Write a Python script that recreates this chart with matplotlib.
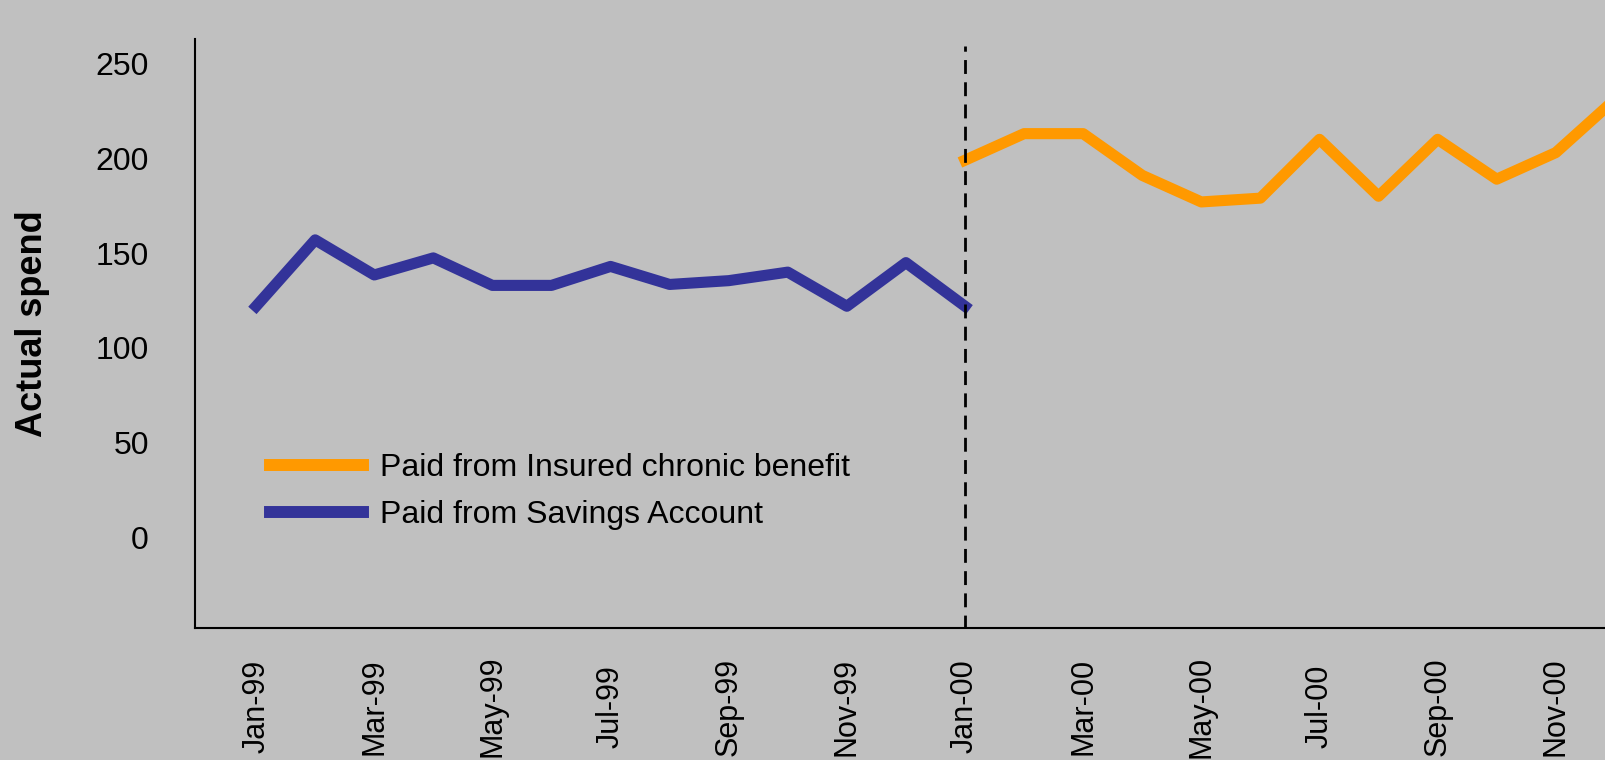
"""Actual spend by month, savings account vs insured chronic benefit."""
import matplotlib

matplotlib.use("Agg")
import matplotlib.pyplot as plt

BG = "#C0C0C0"
BLUE = "#333399"
ORANGE = "#FF9900"

months = [
    "Jan-99", "Feb-99", "Mar-99", "Apr-99", "May-99", "Jun-99",
    "Jul-99", "Aug-99", "Sep-99", "Oct-99", "Nov-99", "Dec-99",
    "Jan-00", "Feb-00", "Mar-00", "Apr-00", "May-00", "Jun-00",
    "Jul-00", "Aug-00", "Sep-00", "Oct-00", "Nov-00", "Dec-00",
]
# Jan-99 .. Jan-00
savings = [122, 157, 138.5, 147.5, 133, 133, 143, 133.5, 135.5, 140, 122,
           145, 122]
# Jan-00 .. Dec-00
insured = [199, 213, 213, 191, 177, 179, 210, 180, 210, 189, 203, 231]
yticks = [0, 50, 100, 150, 200, 250]


def main():
    plt.rcParams["font.family"] = ["Liberation Sans", "DejaVu Sans"]
    fig = plt.figure(figsize=(16.06, 7.6), dpi=100, facecolor=BG)
    ax = fig.add_axes([0.1212, 0.1737, 0.8788, 0.775])
    ax.set_facecolor(BG)

    split = months.index("Jan-00")
    xs_sav = list(range(len(savings)))
    xs_ins = list(range(split, split + len(insured)))

    ax.plot(xs_ins, insured, color=ORANGE, lw=8, solid_joinstyle="round",
            label="Paid from Insured chronic benefit")
    ax.plot(xs_sav, savings, color=BLUE, lw=8, solid_joinstyle="round",
            label="Paid from Savings Account")
    ax.plot([split, split], [-48, 259], color="black", lw=2,
            dashes=(5, 3), zorder=5)

    ax.set_xlim(-1.04, 22.85)
    ax.set_ylim(-47.6, 262.9)

    ax.set_yticks(yticks)
    ax.set_yticklabels([str(v) for v in yticks], fontsize=23)
    ax.set_xticks(range(0, len(months), 2))
    ax.set_xticklabels(months[::2], rotation=90, fontsize=22, va="center")
    ax.tick_params(axis="y", length=0, pad=33)
    ax.tick_params(axis="x", length=0, pad=56.5)

    for side in ("top", "right"):
        ax.spines[side].set_visible(False)
    for side in ("left", "bottom"):
        ax.spines[side].set_linewidth(1.5)

    fig.text(32.5 / 1606, 1 - 324 / 760, "Actual spend", rotation=90,
             fontsize=26, fontweight="bold", ha="center", va="center")

    ax.legend(loc="center left", bbox_to_anchor=(270 / 1606, 1 - 491.5 / 760),
              bbox_transform=fig.transFigure, frameon=False, fontsize=23,
              handlelength=2.92, handletextpad=0.52, labelspacing=0.55,
              borderpad=0, borderaxespad=0)
    for h in ax.get_legend().get_lines():
        h.set_linewidth(8.6)

    fig.savefig("out.png", dpi=100, facecolor=BG)


if __name__ == "__main__":
    main()
